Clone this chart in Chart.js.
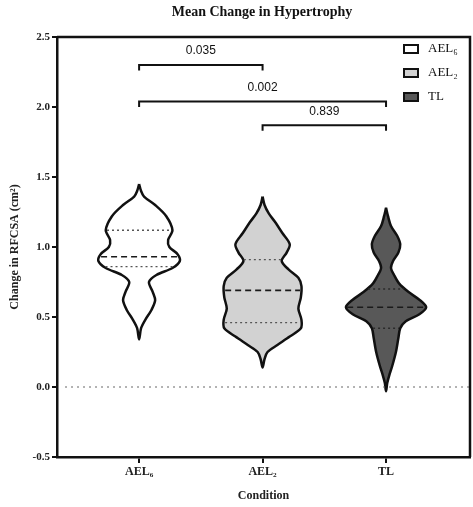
<!DOCTYPE html>
<html>
<head>
<meta charset="utf-8">
<script src="https://cdn.jsdelivr.net/npm/chart.js@4"></script>
<style>
  html, body { margin: 0; padding: 0; background: #fff; }
  #wrap { width: 473px; height: 507px; }
</style>
</head>
<body>
<div id="wrap"><canvas id="grafico"></canvas></div>
<script>
// categorias
var categorias = ['AEL₆', 'AEL₂', 'TL'];
var coresViolino = ['#ffffff', '#d2d2d2', '#585858'];

// niveis (y) e meia largura da densidade (em unidades de categoria)
var niveisAEL6 = [1.45, 1.40, 1.36, 1.30, 1.22, 1.12, 1.05, 1.00, 0.95, 0.90, 0.85, 0.80, 0.75, 0.68, 0.62, 0.55, 0.48, 0.42, 0.34];
var largAEL6   = [0, .016, .04, .13, .22, .27, .235, .245, .31, .33, .27, .14, .08, .11, .13, .10, .05, .016, 0];

var niveisAEL2 = [1.36, 1.30, 1.24, 1.18, 1.10, 1.02, 0.96, 0.90, 0.84, 0.78, 0.72, 0.64, 0.56, 0.48, 0.42, 0.36, 0.30, 0.25, 0.20, 0.14];
var largAEL2   = [0, .016, .05, .10, .16, .22, .195, .155, .21, .29, .315, .31, .29, .315, .31, .22, .12, .04, .016, 0];

var niveisTL = [1.28, 1.22, 1.15, 1.08, 1.02, 0.96, 0.90, 0.85, 0.80, 0.74, 0.68, 0.62, 0.57, 0.52, 0.47, 0.42, 0.35, 0.25, 0.15, 0.08, 0.03, -0.03];
var largTL   = [0, .016, .04, .09, .115, .10, .057, .04, .065, .105, .18, .275, .325, .27, .16, .115, .10, .08, .05, .025, .01, 0];

// mediana e quartis
var medianas = [0.93, 0.69, 0.57];
var quartil1 = [0.86, 0.46, 0.42];
var quartil3 = [1.12, 0.91, 0.70];

// comparacoes (de, ate, altura, p)
var compDe = [0, 0, 1];
var compAte = [1, 2, 2];
var compY = [2.30, 2.04, 1.87];
var compP = ['0.035', '0.002', '0.839'];

var yTicks = [-0.5, 0, 0.5, 1.0, 1.5, 2.0, 2.5];

var todosNiveis = [niveisAEL6, niveisAEL2, niveisTL];
var todasLarg = [largAEL6, largAEL2, largTL];

// largura interpolada num nivel
function larguraEm(i, y) {
  var nv = todosNiveis[i], lg = todasLarg[i];
  for (var k = 0; k < nv.length - 1; k++) {
    if (y <= nv[k] && y >= nv[k + 1]) {
      var t = (nv[k] - y) / (nv[k] - nv[k + 1]);
      return lg[k] + t * (lg[k + 1] - lg[k]);
    }
  }
  return 0;
}

var datasets = [];

// violinos (order alto = desenha atras)
for (var i = 0; i < 3; i++) {
  var pts = [];
  var nv = todosNiveis[i], lg = todasLarg[i];
  for (var k = 0; k < nv.length; k++) pts.push({ x: i + lg[k], y: nv[k] });
  for (var k = nv.length - 2; k >= 1; k--) pts.push({ x: i - lg[k], y: nv[k] });
  pts.push({ x: i, y: nv[0] });
  datasets.push({
    data: pts, showLine: true, fill: 'shape', backgroundColor: coresViolino[i], order: 10,
    borderColor: '#111', borderWidth: 2.5, tension: 0.3, pointRadius: 0
  });
}

// linhas de mediana e quartis
for (var i = 0; i < 3; i++) {
  var w = larguraEm(i, medianas[i]) - 0.01;
  datasets.push({ data: [{ x: i - w, y: medianas[i] }, { x: i + w, y: medianas[i] }], showLine: true,
    borderColor: '#1a1a1a', borderWidth: 1.6, borderDash: [6, 4], pointRadius: 0, order: 1 });
  [quartil1[i], quartil3[i]].forEach(function (q) {
    var wq = larguraEm(i, q) - 0.01;
    datasets.push({ data: [{ x: i - wq, y: q }, { x: i + wq, y: q }], showLine: true, order: 1,
      borderColor: i === 2 ? '#2a2a2a' : '#555', borderWidth: 1.4, borderDash: [2, 3], pointRadius: 0 });
  });
}

// linha do zero
datasets.push({ data: [{ x: -0.6, y: 0 }, { x: 2.68, y: 0 }], showLine: true, order: 1,
  borderColor: '#666', borderWidth: 1.2, borderDash: [2, 4], pointRadius: 0 });

// colchetes
for (var i = 0; i < compDe.length; i++) {
  datasets.push({ data: [{ x: compDe[i], y: compY[i] - 0.04 }, { x: compDe[i], y: compY[i] },
    { x: compAte[i], y: compY[i] }, { x: compAte[i], y: compY[i] - 0.04 }],
    showLine: true, borderColor: '#111', borderWidth: 2, pointRadius: 0, order: 1 });
}

// textos extras: titulo, p-valores, legenda, moldura
var extras = {
  id: 'extras',
  afterDraw: function (chart) {
    var ctx = chart.ctx, xs = chart.scales.x, ys = chart.scales.y, a = chart.chartArea;
    ctx.save();
    ctx.strokeStyle = '#111'; ctx.lineWidth = 2.5;
    ctx.beginPath();
    ctx.moveTo(a.left, a.top); ctx.lineTo(a.right, a.top); ctx.lineTo(a.right, a.bottom);
    ctx.stroke();
    ctx.fillStyle = '#111';
    ctx.font = 'bold 14px "Liberation Serif"';
    ctx.textAlign = 'center'; ctx.textBaseline = 'middle';
    ctx.fillText('Mean Change in Hypertrophy', 262, 12);
    ctx.font = '12px "Liberation Sans"';
    for (var i = 0; i < compP.length; i++) {
      ctx.fillText(compP[i], xs.getPixelForValue((compDe[i] + compAte[i]) / 2), ys.getPixelForValue(compY[i]) - 14);
    }
    // legenda
    ctx.font = '13px "Liberation Serif"';
    ctx.textAlign = 'left';
    for (var i = 0; i < 3; i++) {
      var yy = 49 + i * 24;
      ctx.fillStyle = coresViolino[i];
      ctx.fillRect(404, yy - 4, 14, 8);
      ctx.lineWidth = 2; ctx.strokeStyle = '#111';
      ctx.strokeRect(404, yy - 4, 14, 8);
      ctx.fillStyle = '#111';
      ctx.fillText(categorias[i], 428, yy);
    }
    ctx.restore();
  }
};

new Chart(document.getElementById('grafico'), {
  type: 'scatter',
  data: { datasets: datasets },
  plugins: [extras],
  options: {
    responsive: true, maintainAspectRatio: false, animation: false,
    layout: { padding: { top: 37, right: 3, left: 8, bottom: 0 } },
    plugins: { legend: { display: false }, tooltip: { enabled: false } },
    scales: {
      x: {
        type: 'linear', min: -0.665, max: 2.68,
        afterBuildTicks: function (s) { s.ticks = [{ value: 0 }, { value: 1 }, { value: 2 }]; },
        afterFit: function (s) { s.height = 50; },
        ticks: { color: '#222', font: { family: 'Liberation Serif', weight: 'bold', size: 12 }, padding: 2,
          callback: function (v) { return categorias[v]; } },
        grid: { drawOnChartArea: false, tickLength: 6, color: '#111', lineWidth: 2 },
        border: { color: '#111', width: 2.5 },
        title: { display: true, text: 'Condition', color: '#222', padding: { top: 2 },
          font: { family: 'Liberation Serif', weight: 'bold', size: 12 } }
      },
      y: {
        min: -0.5, max: 2.5,
        afterBuildTicks: function (s) { s.ticks = yTicks.map(function (v) { return { value: v }; }); },
        afterFit: function (s) { s.width = 49; },
        ticks: { color: '#222', font: { family: 'Liberation Serif', weight: 'bold', size: 11 }, padding: 2,
          callback: function (v) { return v.toFixed(1); } },
        grid: { drawOnChartArea: false, tickLength: 5, color: '#111', lineWidth: 2 },
        border: { color: '#111', width: 2.5 },
        title: { display: true, text: 'Change in RFCSA (cm²)', color: '#222', padding: 0,
          font: { family: 'Liberation Serif', weight: 'bold', size: 12 } }
      }
    }
  }
});
</script>
</body>
</html>
